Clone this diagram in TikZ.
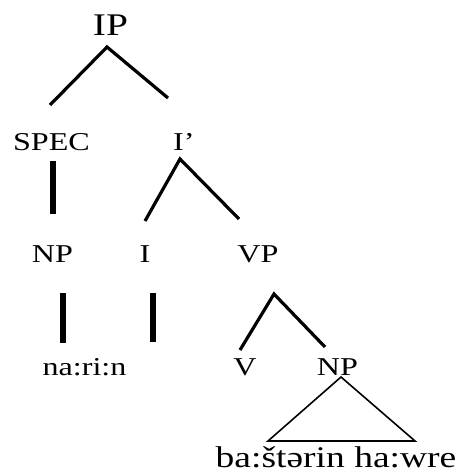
\documentclass[tikz,border=0pt]{standalone}
\usepackage{fontspec}
\setmainfont[FakeStretch=1.25]{Liberation Serif}
\begin{document}
\begin{tikzpicture}[x=1pt,y=-1pt,
  lbl/.style={inner sep=0pt,anchor=base,font=\fontsize{25.7}{28}\selectfont},
  toplbl/.style={inner sep=0pt,anchor=base,font=\fontsize{31.5}{34}\selectfont},
  branch/.style={line width=3.2pt},
  stem/.style={line width=6pt},
  tri/.style={line width=1.6pt,line join=miter}]
\useasboundingbox (0,0) rectangle (461,473);
% labels
\node[toplbl] (ip) at (110.5,36) {IP};
\node[lbl] (spec) at (51.5,150) {SPEC};
\node[lbl,anchor=base west] (ibar) at (173,150) {I\textquoteright};
\node[lbl] (np1) at (52.5,262) {NP};
\node[lbl] (i) at (145,262) {I};
\node[lbl] (vp) at (258,262) {VP};
\node[lbl] (narin) at (84.5,375) {na:ri:n};
\node[lbl] (v) at (245,375) {V};
\node[lbl] (np2) at (337.5,375) {NP};
\node[toplbl,font=\fontsize{30}{34}\selectfont] (obj) at (336,467) {ba:štərin ha:wre};
% coordinates
\coordinate (ipA) at (107,47);
\coordinate (ipL) at (50,105);
\coordinate (ipR) at (168,98);
\coordinate (specT) at (53,161);
\coordinate (specB) at (53,214);
\coordinate (ibA) at (180,159);
\coordinate (ibL) at (145,221);
\coordinate (ibR) at (239,219);
\coordinate (npT) at (63,293);
\coordinate (npB) at (63,343);
\coordinate (iT) at (153,293);
\coordinate (iB) at (153,342);
\coordinate (vpA) at (274,294);
\coordinate (vpL) at (240,350);
\coordinate (vpR) at (325,347);
\coordinate (trA) at (341,377);
\coordinate (trL) at (268,441);
\coordinate (trR) at (415,441);
% branches
\draw[branch] (ipL) -- (ipA) -- (ipR);
\draw[stem] (specT) -- (specB);
\draw[branch] (ibL) -- (ibA) -- (ibR);
\draw[stem] (npT) -- (npB);
\draw[stem] (iT) -- (iB);
\draw[branch] (vpL) -- (vpA) -- (vpR);
\draw[tri] (trA) -- (trL) -- (trR) -- cycle;
\end{tikzpicture}
\end{document}
